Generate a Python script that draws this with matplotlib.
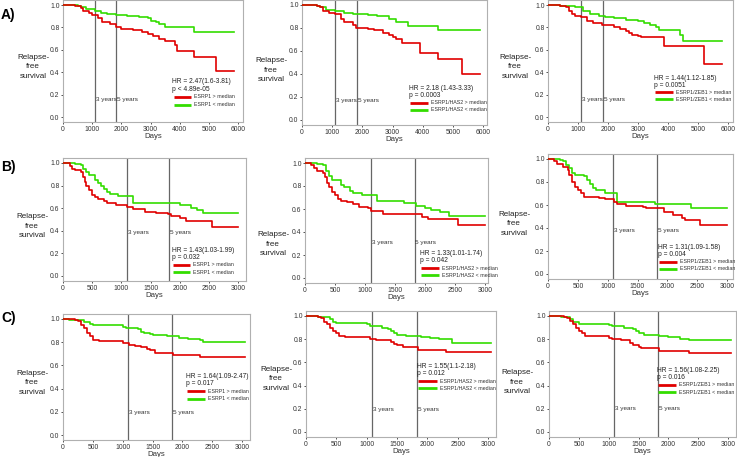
import matplotlib
matplotlib.use("Agg")
import matplotlib.pyplot as plt

plt.rcParams['font.family'] = ['Liberation Sans', 'DejaVu Sans']

RED = '#e00000'
GREEN = '#33dd00'

# --- data: Kaplan-Meier steps (days, survival) ---
a1_red_t = [0, 400, 600, 700, 900, 1000, 1200, 1350, 1600, 1800, 2000, 2400, 2700, 2900, 3100, 3300, 3500, 3850, 3900, 4500, 5250, 5850]
a1_red_s = [1.0, 0.99, 0.97, 0.95, 0.93, 0.91, 0.88, 0.85, 0.83, 0.80, 0.79, 0.78, 0.76, 0.74, 0.72, 0.70, 0.68, 0.64, 0.59, 0.54, 0.41, 0.41]
a1_grn_t = [0, 500, 600, 800, 1100, 1300, 1500, 1800, 2200, 2600, 2900, 3000, 3200, 3300, 3500, 4500, 5850]
a1_grn_s = [1.0, 0.99, 0.98, 0.96, 0.95, 0.93, 0.92, 0.91, 0.90, 0.89, 0.88, 0.86, 0.85, 0.83, 0.80, 0.76, 0.76]

a2_red_t = [0, 500, 600, 700, 900, 1100, 1300, 1400, 1700, 1800, 2200, 2400, 2700, 2900, 3000, 3100, 3300, 3900, 4500, 5300, 5900]
a2_red_s = [1.0, 0.99, 0.98, 0.95, 0.93, 0.92, 0.88, 0.85, 0.83, 0.80, 0.79, 0.78, 0.76, 0.74, 0.72, 0.70, 0.67, 0.58, 0.53, 0.40, 0.40]
a2_grn_t = [0, 500, 600, 800, 1100, 1400, 1700, 2200, 2500, 2900, 3100, 3500, 4500, 5900]
a2_grn_s = [1.0, 0.99, 0.98, 0.96, 0.95, 0.93, 0.92, 0.91, 0.90, 0.88, 0.85, 0.82, 0.78, 0.78]

a3_red_t = [0, 400, 600, 700, 800, 900, 1100, 1300, 1500, 1800, 2200, 2400, 2600, 2700, 2800, 3000, 3100, 3850, 5200, 5800]
a3_red_s = [1.0, 0.99, 0.98, 0.95, 0.92, 0.90, 0.89, 0.86, 0.84, 0.82, 0.80, 0.79, 0.77, 0.75, 0.73, 0.72, 0.71, 0.63, 0.47, 0.47]
a3_grn_t = [0, 400, 600, 900, 1150, 1400, 1700, 1900, 2200, 2600, 3000, 3200, 3400, 3600, 3700, 4400, 4500, 5800]
a3_grn_s = [1.0, 0.995, 0.99, 0.98, 0.95, 0.92, 0.90, 0.89, 0.88, 0.87, 0.86, 0.84, 0.82, 0.80, 0.78, 0.73, 0.68, 0.68]

b1_red_t = [0, 120, 150, 200, 300, 340, 370, 400, 450, 500, 550, 600, 700, 750, 900, 1100, 1200, 1400, 1600, 1800, 1850, 2000, 2100, 2550, 3000]
b1_red_s = [1.0, 0.97, 0.95, 0.94, 0.92, 0.88, 0.83, 0.80, 0.76, 0.72, 0.70, 0.68, 0.66, 0.65, 0.63, 0.61, 0.59, 0.57, 0.56, 0.55, 0.53, 0.51, 0.49, 0.43, 0.43]
b1_grn_t = [0, 200, 300, 350, 400, 450, 550, 600, 650, 700, 750, 800, 950, 1200, 2000, 2200, 2300, 2400, 3000]
b1_grn_s = [1.0, 0.99, 0.98, 0.95, 0.92, 0.89, 0.85, 0.82, 0.80, 0.77, 0.74, 0.73, 0.71, 0.65, 0.63, 0.60, 0.58, 0.56, 0.56]

b2_red_t = [0, 100, 150, 200, 300, 330, 370, 400, 450, 500, 550, 600, 700, 800, 900, 1050, 1100, 1300, 1950, 2050, 2550, 3000]
b2_red_s = [1.0, 0.98, 0.96, 0.93, 0.91, 0.88, 0.83, 0.79, 0.75, 0.72, 0.69, 0.67, 0.66, 0.64, 0.62, 0.61, 0.58, 0.56, 0.53, 0.51, 0.46, 0.46]
b2_grn_t = [0, 200, 300, 350, 400, 450, 600, 650, 750, 800, 950, 1200, 1650, 1850, 2000, 2100, 2250, 2400, 3000]
b2_grn_s = [1.0, 0.99, 0.98, 0.93, 0.89, 0.85, 0.81, 0.79, 0.76, 0.74, 0.72, 0.67, 0.65, 0.63, 0.61, 0.59, 0.57, 0.54, 0.54]

b3_red_t = [0, 100, 150, 250, 330, 350, 400, 450, 500, 550, 600, 850, 950, 1100, 1150, 1300, 1600, 1650, 1950, 2100, 2250, 2300, 2550, 3000]
b3_red_s = [1.0, 0.98, 0.96, 0.93, 0.90, 0.86, 0.80, 0.76, 0.73, 0.70, 0.67, 0.66, 0.65, 0.63, 0.61, 0.59, 0.58, 0.57, 0.54, 0.51, 0.49, 0.47, 0.43, 0.43]
b3_grn_t = [0, 200, 250, 300, 350, 400, 450, 600, 650, 700, 750, 800, 950, 1150, 1800, 2400, 3000]
b3_grn_s = [1.0, 0.99, 0.98, 0.95, 0.92, 0.88, 0.86, 0.85, 0.82, 0.78, 0.75, 0.73, 0.70, 0.63, 0.61, 0.57, 0.57]

c1_red_t = [0, 200, 250, 300, 350, 400, 450, 500, 600, 1000, 1100, 1200, 1300, 1400, 1450, 1550, 1850, 2300, 3050]
c1_red_s = [1.0, 0.99, 0.98, 0.95, 0.92, 0.88, 0.85, 0.82, 0.81, 0.79, 0.78, 0.77, 0.76, 0.74, 0.73, 0.71, 0.69, 0.67, 0.67]
c1_grn_t = [0, 100, 250, 350, 450, 500, 1000, 1050, 1250, 1300, 1350, 1450, 1500, 1750, 1950, 2100, 2300, 2350, 3050]
c1_grn_s = [1.0, 0.995, 0.99, 0.97, 0.96, 0.95, 0.93, 0.92, 0.91, 0.89, 0.88, 0.87, 0.86, 0.85, 0.84, 0.83, 0.82, 0.80, 0.80]

c2_red_t = [0, 200, 250, 300, 350, 400, 450, 500, 550, 650, 1050, 1150, 1400, 1450, 1500, 1600, 1850, 2300, 3050]
c2_red_s = [1.0, 0.99, 0.98, 0.95, 0.93, 0.90, 0.87, 0.85, 0.83, 0.82, 0.80, 0.79, 0.78, 0.76, 0.75, 0.73, 0.71, 0.69, 0.69]
c2_grn_t = [0, 200, 300, 400, 450, 500, 1000, 1050, 1250, 1350, 1400, 1450, 1500, 1650, 1900, 2050, 2200, 2400, 3050]
c2_grn_s = [1.0, 0.995, 0.99, 0.97, 0.95, 0.94, 0.93, 0.91, 0.90, 0.89, 0.87, 0.85, 0.84, 0.83, 0.82, 0.81, 0.80, 0.77, 0.77]

c3_red_t = [0, 250, 300, 350, 400, 450, 500, 550, 600, 1000, 1050, 1200, 1350, 1400, 1500, 1550, 1850, 2350, 3050]
c3_red_s = [1.0, 0.99, 0.98, 0.96, 0.93, 0.90, 0.87, 0.85, 0.83, 0.81, 0.80, 0.79, 0.77, 0.75, 0.73, 0.72, 0.70, 0.68, 0.68]
c3_grn_t = [0, 200, 300, 350, 400, 500, 1000, 1050, 1250, 1400, 1450, 1500, 1600, 1850, 2000, 2200, 2350, 3050]
c3_grn_s = [1.0, 0.995, 0.99, 0.97, 0.95, 0.93, 0.92, 0.91, 0.90, 0.89, 0.87, 0.85, 0.84, 0.83, 0.82, 0.80, 0.79, 0.79]

hr_texts = ['HR = 2.47(1.6-3.81)', 'HR = 2.18 (1.43-3.33)', 'HR = 1.44(1.12-1.85)',
            'HR = 1.43(1.03-1.99)', 'HR = 1.33(1.01-1.74)', 'HR = 1.31(1.09-1.58)',
            'HR = 1.64(1.09-2.47)', 'HR = 1.55(1.1-2.18)', 'HR = 1.56(1.08-2.25)']
p_texts = ['p < 4.89e-05', 'p = 0.0003', 'p = 0.0051',
           'p = 0.032', 'p = 0.042', 'p = 0.004',
           'p = 0.017', 'p = 0.012', 'p = 0.016']
genes = ['ESRP1', 'ESRP1/HAS2', 'ESRP1/ZEB1'] * 3
year_marks = [1095, 1825]
row_labels = ['A)', 'B)', 'C)']

curves = [
    (a1_red_t, a1_red_s, a1_grn_t, a1_grn_s), (a2_red_t, a2_red_s, a2_grn_t, a2_grn_s), (a3_red_t, a3_red_s, a3_grn_t, a3_grn_s),
    (b1_red_t, b1_red_s, b1_grn_t, b1_grn_s), (b2_red_t, b2_red_s, b2_grn_t, b2_grn_s), (b3_red_t, b3_red_s, b3_grn_t, b3_grn_s),
    (c1_red_t, c1_red_s, c1_grn_t, c1_grn_s), (c2_red_t, c2_red_s, c2_grn_t, c2_grn_s), (c3_red_t, c3_red_s, c3_grn_t, c3_grn_s),
]

# layout in pixels: x of 0, x of last tick, right edge, y of 1.0, y of 0.0
W, H = 737, 457
panels_px = [
    (63, 238, 243, 5, 117), (302, 483, 487, 5, 120), (548, 728, 733, 5, 117),
    (63, 238, 246, 163, 276), (305, 485, 488, 163, 278), (548, 727, 733, 159, 274),
    (63, 242, 250, 319, 435), (306, 488, 496, 316, 432), (549, 728, 736, 316, 432),
]
# annotation layout: HR x (days), HR y, line spacing, "years" label y
annot = [
    (3750, 0.315, 0.068, 0.16), (3540, 0.27, 0.061, 0.168), (3530, 0.345, 0.062, 0.16),
    (1860, 0.23, 0.066, 0.385), (1910, 0.21, 0.062, 0.31), (1840, 0.23, 0.061, 0.38),
    (2060, 0.504, 0.064, 0.193), (1830, 0.563, 0.062, 0.197), (1805, 0.53, 0.062, 0.20),
]
ylab_px = [(33, 67), (271, 70), (515, 67), (32, 226), (273, 244), (514, 224), (32, 383), (276, 379), (517, 382)]

fig = plt.figure(figsize=(W / 100, H / 100), dpi=100)

for i in range(9):
    x0, xt, xr, y1, y0 = panels_px[i]
    long_range = i < 3
    tmax = 6000 if long_range else 3000
    pad = 0.045
    span = y0 - y1
    top = y1 - pad * span
    bot = y0 + pad * span
    ax = fig.add_axes([x0 / W, 1 - bot / H, (xr - x0) / W, (bot - top) / H])
    ax.set_xlim(0, tmax * (xr - x0) / (xt - x0))
    ax.set_ylim(-pad, 1 + pad)

    rt, rs, gt, gs = curves[i]
    ax.step(gt, gs, where='post', color=GREEN, lw=1.2, zorder=3)
    ax.step(rt, rs, where='post', color=RED, lw=1.2, zorder=4)

    hx, hy, dy, yy = annot[i]
    for ym in year_marks:
        ax.axvline(ym, color='#666666', lw=0.9, zorder=2)
    off = tmax * 0.005
    ax.text(year_marks[0] + off, yy, '3 years', fontsize=4.6, color='#333333', va='center')
    ax.text(year_marks[1] + off, yy, '5 years', fontsize=4.6, color='#333333', va='center')

    ax.text(hx, hy, hr_texts[i], fontsize=4.8, color='#222222', va='center')
    ax.text(hx, hy - dy, p_texts[i], fontsize=4.8, color='#222222', va='center')
    seg = tmax * 0.1
    for k, (col, sign) in enumerate([(RED, '>'), (GREEN, '<')]):
        ly = hy - dy * (2 + k)
        ax.plot([hx + tmax * 0.008, hx + tmax * 0.008 + seg], [ly, ly], color=col, lw=2.0, solid_capstyle='butt')
        ax.text(hx + tmax * 0.025 + seg, ly, genes[i] + ' ' + sign + ' median', fontsize=3.8, color='#333333', va='center')

    if long_range:
        ax.set_xticks(range(0, 6001, 1000))
    else:
        ax.set_xticks(range(0, 3001, 500))
    ax.set_yticks([0.0, 0.2, 0.4, 0.6, 0.8, 1.0])
    ax.set_yticklabels(['0.0', '0.2', '0.4', '0.6', '0.8', '1.0'])
    ax.tick_params(labelsize=4.9, colors='#333333', length=1.5, width=0.6, pad=1)
    for s in ax.spines.values():
        s.set_color('#b0b0b0')
        s.set_linewidth(0.8)
    ax.set_xlabel('Days', fontsize=5.6, color='#333333', labelpad=0)

    lx, ly = ylab_px[i]
    fig.text(lx / W, 1 - ly / H, 'Relapse-\nfree\nsurvival', fontsize=5.8, color='#222222',
             ha='center', va='center', linespacing=1.45)

for lab, py in zip(row_labels, [15, 167, 318]):
    fig.text(1 / W, 1 - py / H, lab, fontsize=10, fontweight='bold', ha='left', va='center')

fig.savefig('out.png', dpi=100)
